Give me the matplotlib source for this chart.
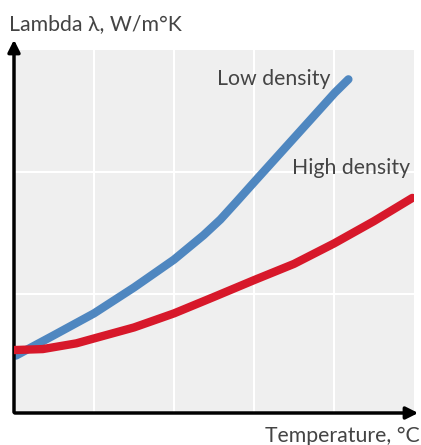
import matplotlib.pyplot as plt

plt.rcParams['font.family'] = ['Lato', 'DejaVu Sans']

# values (x: temperature units, y: lambda units)
low_x = [0.025, 0.5, 1.0, 1.5, 1.7, 2.0, 2.37, 2.58, 2.78, 3.01, 3.7, 4.01, 4.18]
low_y = [0.50, 0.667, 0.845, 1.057, 1.148, 1.285, 1.485, 1.613, 1.757, 1.925, 2.425, 2.65, 2.76]
high_x = [0.0, 0.36, 0.78, 1.0, 1.5, 2.0, 2.5, 3.0, 3.5, 4.0, 4.5, 4.98]
high_y = [0.545, 0.553, 0.60, 0.64, 0.73, 0.845, 0.98, 1.117, 1.25, 1.417, 1.60, 1.79]

x_grid = [1, 2, 3, 4]
y_grid = [1, 2]

W, H = 421, 445
fig = plt.figure(figsize=(W / 100, H / 100), dpi=100)
ax = fig.add_axes([14 / W, (H - 413) / H, 400 / W, 363 / H])
ax.set_facecolor('#efefef')
ax.set_xlim(0, 5)
ax.set_ylim(0.03, 3.0)
for s in ax.spines.values():
    s.set_visible(False)
ax.set_xticks(x_grid)
ax.set_yticks(y_grid)
ax.tick_params(length=0, labelbottom=False, labelleft=False)
ax.grid(True, color='white', lw=1.5)
ax.set_axisbelow(True)

ax.plot(low_x, low_y, color='#4f87c0', lw=6, solid_capstyle='round', solid_joinstyle='round', zorder=3)
ax.plot(high_x, high_y, color='#d7182a', lw=6, solid_capstyle='round', solid_joinstyle='round', zorder=4)

# axis arrows
ox, oy = 14 / W, 1 - 413 / H
ax.annotate('', xy=(ox, 1 - 37 / H), xytext=(ox, oy - 2 / H), xycoords='figure fraction',
            arrowprops=dict(arrowstyle='-|>', lw=2.5, color='black', mutation_scale=18))
ax.annotate('', xy=(1.0, oy), xytext=(ox - 2 / W, oy), xycoords='figure fraction',
            arrowprops=dict(arrowstyle='-|>', lw=2.5, color='black', mutation_scale=18))

tc = '#444444'
fs = 15.3
fig.text(9 / W, 1 - 30 / H, 'Lambda λ, W/m°K', fontsize=fs, color=tc, va='baseline', ha='left')
fig.text(217 / W, 1 - 85 / H, 'Low density', fontsize=fs, color=tc, va='baseline', ha='left')
fig.text(292 / W, 1 - 174 / H, 'High density', fontsize=fs, color=tc, va='baseline', ha='left')
fig.text(420 / W, 1 - 442 / H, 'Temperature, °C', fontsize=fs, color=tc, va='baseline', ha='right')

fig.savefig('out.png', dpi=100)
